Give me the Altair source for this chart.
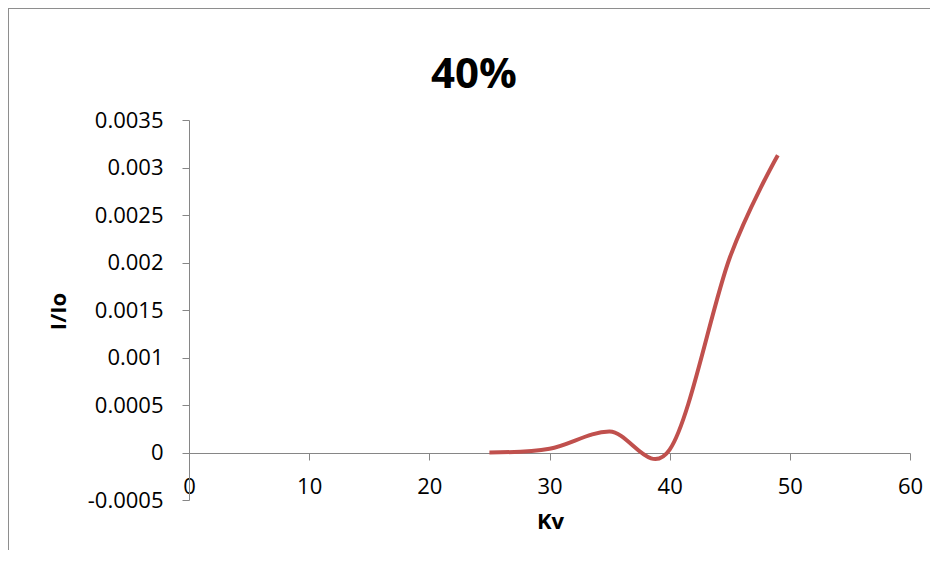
import altair as alt
import pandas as pd

# ---- data ----
kv = [25, 30, 35, 40, 45, 49]
ratio = [0.0, 0.00004, 0.00022, 0.00003, 0.00205, 0.00313]
x_ticks = [0, 10, 20, 30, 40, 50, 60]
y_ticks = [-0.0005, 0.0, 0.0005, 0.001, 0.0015, 0.002, 0.0025, 0.003, 0.0035]
title_text = "40%"
x_title = "Kv"
y_title = "I/Io"

df = pd.DataFrame({"Kv": kv, "ratio": ratio})

FONT = "Open Sans"
AX = "#868686"

line = alt.Chart(df).mark_line(
    color="#C0504D", strokeWidth=4, interpolate="cardinal", clip=False
).encode(
    x=alt.X(
        "Kv:Q",
        scale=alt.Scale(domain=[0, 60], nice=False, zero=False),
        axis=alt.Axis(
            values=x_ticks, format="d", title=x_title, offset=-47,
            grid=False, domainColor=AX, tickColor=AX, tickSize=7,
            labelPadding=16, labelFlush=False, labelOverlap=False,
            labelFont=FONT, labelFontSize=22, labelColor="black",
            titleFont=FONT, titleFontSize=22, titleFontWeight="bold",
            titleColor="black", titleX=361, titleY=68,
            titleBaseline="middle", titleAlign="center",
        ),
    ),
    y=alt.Y(
        "ratio:Q",
        scale=alt.Scale(domain=[-0.0005, 0.0035], nice=False, zero=False),
        axis=alt.Axis(
            values=y_ticks,
            labelExpr="datum.value < 0 ? '-' + format(-datum.value, '~g') : format(datum.value, '~g')",
            title=y_title, grid=False, domainColor=AX, tickColor=AX,
            tickSize=7, labelPadding=19, labelFlush=False, labelOverlap=False,
            labelFont=FONT, labelFontSize=22, labelColor="black",
            titleFont=FONT, titleFontSize=22, titleFontWeight="bold",
            titleColor="black", titleAngle=270, titleX=-131, titleY=191,
            titleBaseline="middle", titleAlign="center",
        ),
    ),
)

title = alt.Chart(alt.Data(values=[{"t": title_text}])).mark_text(
    font=FONT, fontSize=42, fontWeight="bold", color="black",
    baseline="middle", align="center",
).encode(text="t:N", x=alt.value(285), y=alt.value(-45))

border_data = alt.Data(values=[{"b": 1}])
top_border = alt.Chart(border_data).mark_rule(color="#8E8E8E", strokeWidth=1).encode(
    x=alt.value(-180), x2=alt.value(741), y=alt.value(-111.5)
)
left_border = alt.Chart(border_data).mark_rule(color="#8E8E8E", strokeWidth=1).encode(
    x=alt.value(-180.5), y=alt.value(-112), y2=alt.value(430)
)

chart = alt.layer(left_border, top_border, line, title).properties(
    width=721,
    height=380,
    padding={"left": 181, "top": 112, "right": 20, "bottom": 50},
    autosize=alt.AutoSizeParams(type="none"),
    background="white",
).configure_view(stroke=None)

chart.save("out.html", embed_options={"renderer": "svg", "actions": False})
